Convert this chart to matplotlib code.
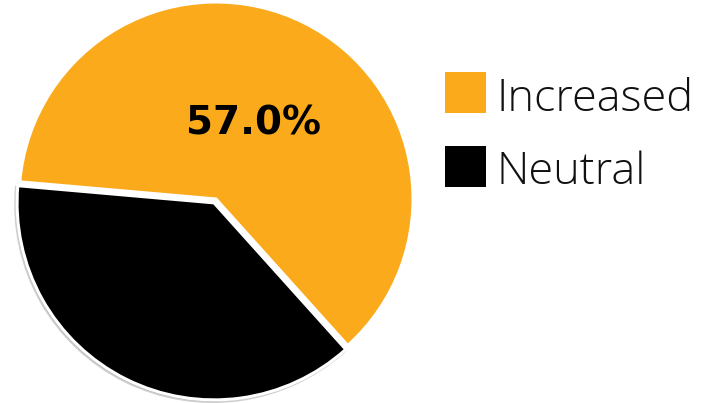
import matplotlib
matplotlib.use("Agg")
import matplotlib.pyplot as plt
from matplotlib.patches import Shadow, Rectangle

# data
categories = ["Increased", "Neutral"]
values = [57.0, 35.0]
colors = ["#FAAA1A", "#000000"]
explode = [0.0, 0.022]

W, H = 716, 403
fig = plt.figure(figsize=(W / 100, H / 100), dpi=100)

# pie axes: centre (216,199) px, radius 197 px
cx, cy, r = 216, 199, 197
ax = fig.add_axes([(cx - r) / W, (H - cy - r) / H, 2 * r / W, 2 * r / H])
wedges, texts = ax.pie(values, colors=colors, explode=explode,
                       startangle=175, counterclock=False,
                       labels=[f"{values[0]:.1f}%", ""], labeldistance=0.43,
                       wedgeprops=dict(edgecolor="white", linewidth=2.2))
ax.set_xlim(-1, 1)
ax.set_ylim(-1, 1)
ax.set_aspect("equal")
ax.axis("off")
for w in wedges:
    w.set_clip_on(False)

# faint shadow under the neutral slice only
sh = Shadow(wedges[1], -0.005, -0.006, color="#777777", alpha=0.35)
sh.set_clip_on(False)
ax.add_patch(sh)
wedges[1].set_zorder(sh.get_zorder() + 1)

for t in texts:
    t.set_ha("center")
    t.set_va("center")
    t.set_fontsize(28)
    t.set_fontweight("heavy")
    t.set_color("black")

# legend drawn by hand
sq = 41
for i, (lab, col) in enumerate(zip(categories, colors)):
    ymid = 92.5 + i * 73.5
    fig.patches.append(Rectangle((445 / W, 1 - (ymid + sq / 2) / H), sq / W, sq / H,
                                 transform=fig.transFigure, facecolor=col, edgecolor="none"))
    fig.text(496 / W, 1 - (ymid + 7) / H, lab, fontsize=32.5, fontweight="light",
             family=["Open Sans", "DejaVu Sans"], color="#111111", va="center", ha="left")

fig.savefig("out.png", dpi=100)
